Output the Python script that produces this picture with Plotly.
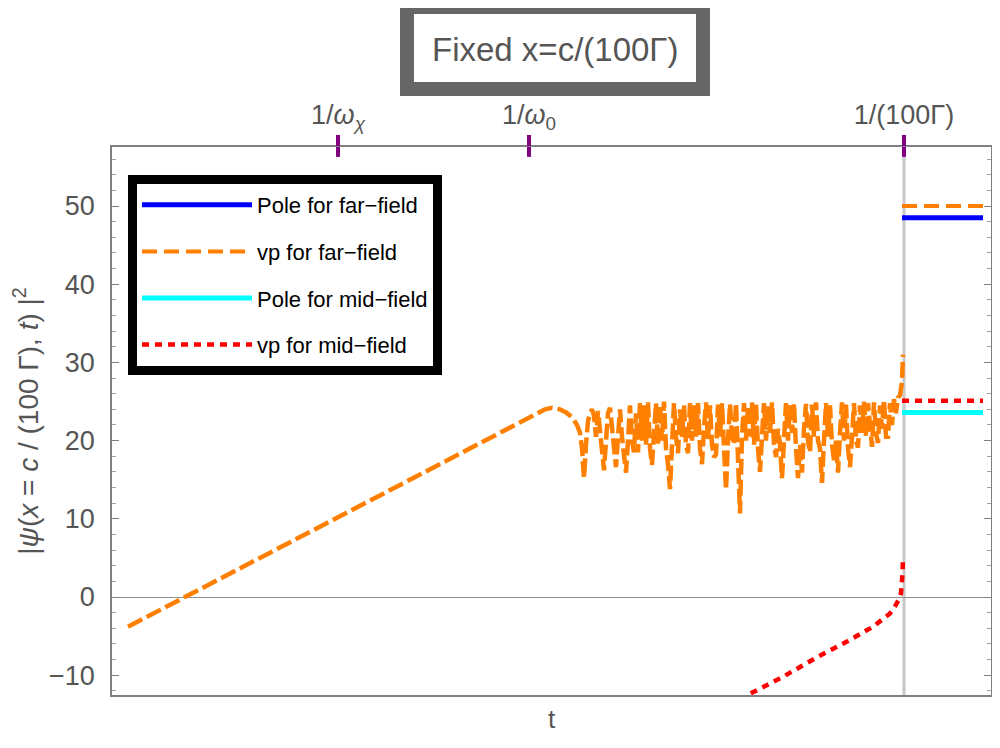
import plotly.graph_objects as go

# time axis has no numeric labels; t is in arbitrary units
t_range = [112, 991]
psi_range = [-12.53, 57.55]

# vp for far-field: linear rise, then noisy oscillation
t_far = [128, 185, 300, 400, 500, 530, 545, 552, 560, 566, 572, 577, 580, 582, 584, 586, 588,
         590, 592, 594, 596, 598, 600, 602, 604, 606, 608, 610, 612, 614, 616, 618, 620, 622,
         624, 626, 628, 630, 632, 634, 636, 638, 640, 642, 644, 646, 648, 650, 652, 654, 656,
         658, 660, 662, 664, 666, 668, 670, 672, 674, 676, 678, 680, 682, 684, 686, 688, 690,
         692, 694, 696, 698, 700, 702, 704, 706, 708, 710, 712, 714, 716, 718, 720, 722, 724,
         726, 728, 730, 732, 734, 736, 738, 740, 742, 744, 746, 748, 750, 752, 754, 756, 758,
         760, 762, 764, 766, 768, 770, 772, 774, 776, 778, 780, 782, 784, 786, 788, 790, 792,
         794, 796, 798, 800, 802, 804, 806, 808, 810, 812, 814, 816, 818, 820, 822, 824, 826,
         828, 830, 832, 834, 836, 838, 840, 842, 844, 846, 848, 850, 852, 854, 856, 858, 860,
         862, 864, 866, 868, 870, 872, 874, 876, 878, 880, 882, 884, 886, 888, 890, 892, 894,
         896, 898, 900, 902, 903]
psi_far = [-3.8, 0.0, 7.7, 14.3, 21.0, 23.0, 24.0, 24.2, 24.0, 23.6, 23.0, 22.0, 21.0, 19.0,
           15.2, 19.5, 22.5, 23.5, 24.0, 23.2, 20.5, 23.8, 21.0, 19.0, 16.2, 20.0, 23.5, 24.2,
           21.5, 19.5, 16.6, 20.5, 24.0, 20.5, 18.5, 15.9, 20.0, 24.5, 20.0, 18.5, 23.5, 18.5,
           24.8, 20.0, 24.5, 19.5, 24.9, 19.0, 16.9, 20.5, 24.8, 19.5, 24.6, 20.0, 25.0, 19.0,
           17.0, 13.8, 20.0, 24.8, 20.5, 18.4, 24.0, 20.5, 24.5, 19.5, 18.4, 24.8, 20.0, 24.5,
           20.5, 24.8, 19.0, 17.0, 21.5, 24.9, 20.0, 24.5, 19.5, 17.9, 18.2, 24.6, 20.5, 24.8,
           19.0, 13.7, 20.0, 24.7, 20.5, 19.5, 24.8, 18.0, 10.7, 20.5, 24.8, 20.0, 24.5, 20.5,
           24.9, 19.5, 24.7, 19.0, 16.0, 20.5, 24.8, 20.0, 24.5, 21.0, 24.9, 19.5, 17.9, 21.5,
           19.5, 15.2, 21.0, 24.8, 20.0, 24.5, 21.0, 24.8, 19.0, 15.2, 19.5, 15.9, 21.5, 24.7,
           20.0, 18.5, 24.6, 20.5, 24.9, 20.0, 19.0, 14.6, 20.0, 24.8, 20.5, 24.5, 19.5, 17.5,
           20.0, 15.9, 21.0, 24.9, 20.0, 24.6, 19.0, 16.6, 20.5, 24.8, 20.0, 19.1, 24.5, 21.0,
           25.0, 20.5, 24.8, 21.0, 19.2, 24.9, 21.0, 19.7, 24.5, 21.5, 25.2, 20.5, 20.5, 24.8,
           22.0, 25.3, 23.5, 25.5, 25.8, 27.5, 31.0]

# vp for mid-field
t_mid = [700, 748, 783, 817, 847, 860, 873, 882, 890, 895, 899, 901, 902, 902.5, 903]
psi_mid = [-17.5, -12.5, -10.2, -7.7, -5.7, -4.7, -3.8, -2.9, -2.1, -1.2, -0.3, 0.5, 1.5, 3.0, 5.1]

# late-time values (right of 1/(100 Gamma))
t_late = [902, 983]
pole_far = 48.5
vp_far = 50.0
pole_mid = 23.6
vp_mid = 25.1

# marked time scales on the top frame
scale_t = [338, 529, 904]
scale_labels = ["1/<i>ω</i><sub><i>χ</i></sub>", "1/<i>ω</i><sub>0</sub>", "1/(100Γ)"]

ORANGE = "#ff8000"
GRAY_TXT = "#555555"
FONT = "Liberation Sans, Arial, sans-serif"

# plot area on screen: 112..991 x 147..695 (page body adds an 8px offset)
PW, PH = 879, 548

fig = go.Figure()

fig.add_trace(go.Scatter(x=t_late, y=[pole_far, pole_far], mode="lines", name="Pole for far−field",
                         legendgroup="a", line=dict(color="#0000ff", width=5)))
fig.add_trace(go.Scatter(x=t_late, y=[vp_far, vp_far], mode="lines", name="vp for far−field",
                         legendgroup="b", line=dict(color=ORANGE, width=4, dash="15px,7px")))
fig.add_trace(go.Scatter(x=t_late, y=[pole_mid, pole_mid], mode="lines", name="Pole for mid−field",
                         legendgroup="c", line=dict(color="#00ffff", width=5)))
fig.add_trace(go.Scatter(x=t_late, y=[vp_mid, vp_mid], mode="lines", name="vp for mid−field",
                         legendgroup="d", line=dict(color="#ff0000", width=4.5, dash="7px,6px")))
fig.add_trace(go.Scatter(x=t_far, y=psi_far, mode="lines", showlegend=False, legendgroup="b",
                         line=dict(color=ORANGE, width=4.5, dash="16px,5px")))
fig.add_trace(go.Scatter(x=t_mid, y=psi_mid, mode="lines", showlegend=False, legendgroup="d",
                         line=dict(color="#ff0000", width=4.5, dash="7px,6px")))
# dummy trace to activate the top axis
fig.add_trace(go.Scatter(x=[scale_t[0]], y=[0], xaxis="x2", mode="markers", opacity=0,
                         showlegend=False, hoverinfo="skip"))

# vertical marker at 1/(100 Gamma)
fig.add_shape(type="line", xref="x", yref="paper", x0=scale_t[2], x1=scale_t[2], y0=0, y1=1,
              line=dict(color="#c8c8c8", width=3), layer="below")
# purple ticks crossing the top frame
for tv in scale_t:
    fig.add_shape(type="line", xref="x", yref="paper", x0=tv, x1=tv, y0=1.0, y1=0.982,
                  line=dict(color="#800080", width=4))

# title box
fig.add_shape(type="rect", xref="paper", yref="paper", x0=(407 - 112) / PW, x1=(703 - 112) / PW,
              y0=(695 - 89) / PH, y1=(695 - 7) / PH, line=dict(color="#666666", width=14),
              fillcolor="white")
fig.add_annotation(text="Fixed x=c/(100Γ)", xref="paper", yref="paper", x=(555 - 112) / PW,
                   y=(695 - 50) / PH, xanchor="center", yanchor="middle", showarrow=False,
                   font=dict(size=33, color=GRAY_TXT, family=FONT))

fig.update_layout(
    width=984, height=726,
    margin=dict(l=104, r=1, t=139, b=39),
    paper_bgcolor="white", plot_bgcolor="white",
    font=dict(family=FONT, color=GRAY_TXT),
    xaxis=dict(range=t_range, showgrid=False, zeroline=False, showticklabels=False,
               showline=True, linecolor="#808080", linewidth=1.5, mirror=True, ticks="",
               automargin=False,
               title=dict(text="t", font=dict(size=26, color=GRAY_TXT), standoff=18)),
    xaxis2=dict(range=t_range, overlaying="x", side="top", showgrid=False, zeroline=False,
                tickvals=scale_t, ticktext=scale_labels, ticks="outside", ticklen=11,
                tickwidth=4, tickcolor="#800080", tickfont=dict(size=27, color=GRAY_TXT),
                showline=False, automargin=False),
    yaxis=dict(range=psi_range, showgrid=False, zeroline=True, zerolinecolor="#909090",
               zerolinewidth=1, showline=True, linecolor="#808080", linewidth=1.5,
               mirror="ticks", ticks="inside", ticklen=7, tickcolor="#808080",
               tickvals=[-10, 0, 10, 20, 30, 40, 50],
               ticktext=["−10", "0", "10", "20", "30", "40", "50"],
               minor=dict(dtick=2, ticks="inside", ticklen=4, tickcolor="#a0a0a0"),
               tickfont=dict(size=27, color=GRAY_TXT), ticklabelstandoff=10, automargin=False,
               title=dict(text="|<i>ψ</i>(<i>x</i> = <i>c</i> / (100 Γ), <i>t</i>) |<sup>2</sup>",
                          font=dict(size=28, color=GRAY_TXT), standoff=8)),
    legend=dict(x=(128 - 112) / PW, y=(695 - 175) / PH, xanchor="left", yanchor="top",
                bgcolor="white", bordercolor="black", borderwidth=9,
                font=dict(size=22, color="black", family=FONT),
                itemwidth=110, tracegroupgap=15, traceorder="grouped"),
    showlegend=True,
)

fig.write_html("out.html")
